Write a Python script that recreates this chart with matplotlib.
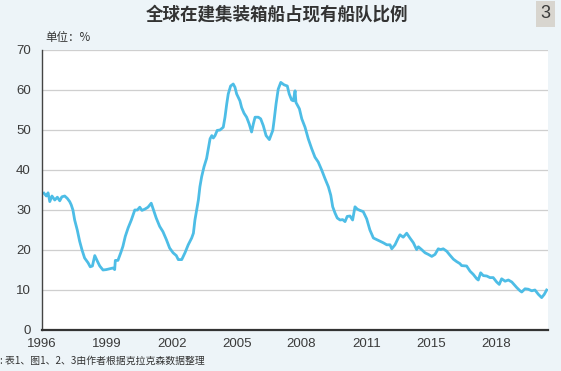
import matplotlib
matplotlib.use("Agg")
import matplotlib.pyplot as plt
import numpy as np

plt.rcParams['font.family'] = ['Noto Sans CJK SC', 'DejaVu Sans']

# share of container ships on order vs. existing fleet (%)
years = np.array([
    0.09, 0.20, 0.28, 0.36, 0.46, 0.59, 0.71, 0.82, 0.92, 1.05, 1.17, 1.28, 1.35,
    1.43, 1.51, 1.63, 1.74, 1.85, 1.97, 2.13, 2.23, 2.33, 2.44, 2.56, 2.67, 2.82,
    2.97, 3.13, 3.28, 3.36, 3.39, 3.51, 3.64, 3.74, 3.85, 3.98, 4.13, 4.29, 4.41,
    4.52, 4.62, 4.75, 4.90, 5.05, 5.13, 5.28, 5.44, 5.59, 5.75, 5.90, 6.06, 6.21,
    6.30, 6.46, 6.61, 6.76, 6.92, 7.00, 7.07, 7.15, 7.23, 7.30, 7.38, 7.49, 7.61,
    7.69, 7.77, 7.85, 7.92, 8.00, 8.10, 8.23, 8.38, 8.46, 8.54, 8.61, 8.72, 8.84,
    8.92, 9.00, 9.15, 9.23, 9.34, 9.46, 9.58, 9.69, 9.77, 9.85, 10.00, 10.11, 10.23,
    10.36, 10.51, 10.67, 10.73, 10.82, 10.92, 11.04, 11.19, 11.34, 11.43, 11.54,
    11.62, 11.70, 11.74, 11.90, 12.01, 12.16, 12.31, 12.47, 12.62, 12.77, 12.93,
    13.08, 13.24, 13.35, 13.44, 13.55, 13.65, 13.78, 13.90, 14.01, 14.11, 14.24,
    14.36, 14.47, 14.58, 14.70, 14.85, 15.01, 15.16, 15.32, 15.47, 15.63, 15.78,
    15.94, 16.09, 16.17, 16.32, 16.47, 16.55, 16.70, 16.86, 17.01, 17.17, 17.32,
    17.40, 17.55, 17.71, 17.86, 18.02, 18.17, 18.32, 18.43, 18.55, 18.71, 18.86,
    19.02, 19.17, 19.32, 19.40, 19.63, 19.79, 19.94, 20.10, 20.17, 20.28, 20.40,
    20.56, 20.71, 20.86, 21.02, 21.14, 21.25, 21.41, 21.56, 21.72, 21.82, 21.95,
    22.10, 22.18, 22.33, 22.48, 22.64, 22.79, 22.95, 23.10, 23.22, 23.33,
]) + 1996
share = np.array([
    34.2, 33.5, 34.3, 32.1, 33.5, 32.5, 33.2, 32.3, 33.3, 33.5, 32.9, 32.1, 31.3,
    30.0, 27.5, 25.0, 22.2, 20.0, 18.0, 16.8, 15.8, 16.0, 18.6, 17.2, 16.0, 15.0,
    15.1, 15.3, 15.5, 15.1, 17.4, 17.4, 19.3, 20.9, 23.4, 25.5, 27.5, 30.0, 30.0,
    30.7, 29.9, 30.2, 30.7, 31.7, 30.4, 28.0, 25.9, 24.6, 22.6, 20.5, 19.3, 18.6,
    17.6, 17.6, 19.3, 21.3, 23.0, 24.2, 27.5, 30.0, 32.5, 35.8, 38.3, 40.8, 42.9,
    45.3, 47.8, 48.6, 48.0, 48.6, 49.9, 50.0, 50.7, 53.2, 56.5, 59.0, 61.0, 61.5,
    60.7, 59.0, 57.3, 55.6, 54.2, 53.2, 51.5, 49.5, 51.5, 53.2, 53.2, 52.8, 51.1,
    48.6, 47.6, 49.9, 52.4, 56.5, 60.2, 61.9, 61.3, 61.0, 59.0, 57.5,
    57.3, 59.8, 56.9, 55.3, 52.8, 50.7, 47.8, 45.3, 43.2, 42.0, 40.0,
    37.9, 35.8, 33.7, 30.8, 29.2, 28.0, 27.5, 27.6, 27.1, 28.4, 28.5,
    27.5, 30.8, 30.2, 29.9, 29.6, 27.8, 25.0, 23.0, 22.6, 22.2, 21.8,
    21.3, 21.3, 20.3, 21.3, 23.0, 23.8, 23.2, 24.2, 23.0, 21.8, 20.1,
    20.8, 20.1, 19.3, 18.9, 18.4, 18.9, 20.3, 20.1, 20.3, 19.7, 18.7,
    17.7, 17.1, 16.6, 16.1, 16.0, 14.7, 13.9, 12.8, 12.5, 14.3, 13.6,
    13.5, 13.1, 13.1, 12.0, 11.4, 12.8, 12.2, 12.5, 12.0, 11.4, 10.6,
    9.8, 9.5, 10.3, 10.2, 9.8, 10.0, 8.9, 8.1, 8.9, 10.0,
])

tick_pos = [1996, 1999, 2002, 2005, 2008, 2011, 2014, 2017]
tick_lbl = ["1996", "1999", "2002", "2005", "2008", "2011", "2015", "2018"]

BG = "#edf4f8"
LINE = "#4dbde6"
GRID = "#cfcfcf"
TXT = "#333333"
NUM_FONT = ["Liberation Sans", "DejaVu Sans"]

fig = plt.figure(figsize=(5.61, 3.71), dpi=100, facecolor=BG)
ax = fig.add_axes([42 / 561, 41 / 371, 506 / 561, 280 / 371])
ax.set_facecolor("white")

ax.plot(years, share, color=LINE, linewidth=2.0, solid_joinstyle="round")

ax.set_xlim(1996, 1996 + 506 / 21.63)
ax.set_ylim(0, 70)
ax.set_yticks(range(0, 71, 10))
ax.set_xticks(tick_pos)
ax.set_xticklabels(tick_lbl)
ax.tick_params(axis="both", length=0, labelsize=9.5, colors="#3a3a3a")
ax.tick_params(axis="y", pad=8)
ax.tick_params(axis="x", pad=6)
for lbl in ax.get_xticklabels() + ax.get_yticklabels():
    lbl.set_family(NUM_FONT)
ax.grid(axis="y", color=GRID, linewidth=0.9)
ax.set_axisbelow(True)

for side in ("top", "right"):
    ax.spines[side].set_visible(False)
ax.spines["left"].set_color("#444444")
ax.spines["left"].set_linewidth(1.0)
ax.spines["bottom"].set_color("#333333")
ax.spines["bottom"].set_linewidth(1.6)

fig.text(277 / 561, 1 - 15 / 371, "全球在建集装箱船占现有船队比例",
         ha="center", va="center", fontsize=12.6, fontweight="bold", color=TXT)
fig.text(545.5 / 561, 1 - 14 / 371, "3", ha="center", va="center", fontsize=13,
         color="#3a3a3a", family=NUM_FONT,
         bbox=dict(boxstyle="square,pad=0.25", facecolor="#d8d5cf", edgecolor="none"))
fig.text(45 / 561, 1 - 38 / 371, "单位：%", ha="left", va="center",
         fontsize=8.3, color=TXT)
fig.text(0, 1 - 361 / 371, ": 表1、图1、2、3由作者根据克拉克森数据整理",
         ha="left", va="center", fontsize=7.1, color=TXT)

fig.savefig("out.png", dpi=100, facecolor=BG)
